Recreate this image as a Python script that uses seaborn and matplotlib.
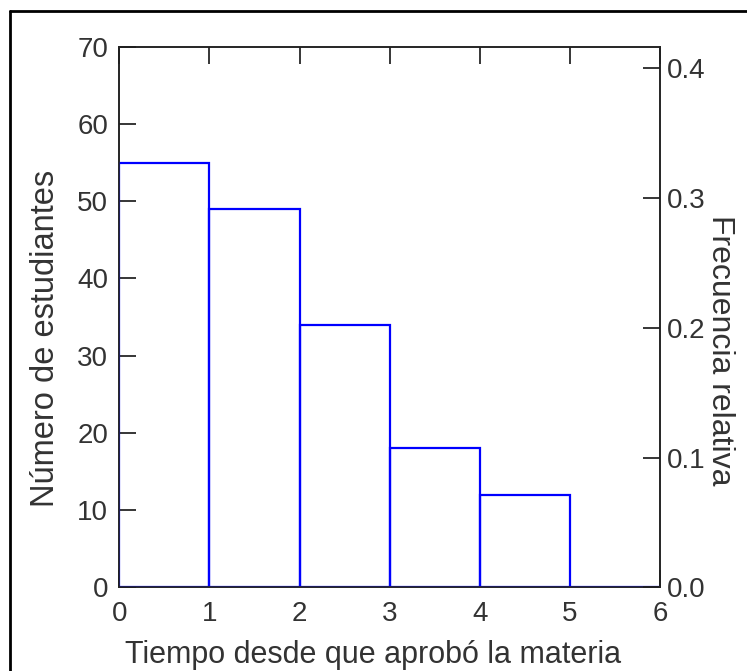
import numpy as np
import pandas as pd
import matplotlib.pyplot as plt
from matplotlib.lines import Line2D
import seaborn as sns

tiempo = [0.5, 1.5, 2.5, 3.5, 4.5, 5.5]
estudiantes = [55, 49, 34, 18, 12, 0]
bordes = [0, 1, 2, 3, 4, 5, 6]
yticks_n = [0, 10, 20, 30, 40, 50, 60, 70]
yticks_f = [0.0, 0.1, 0.2, 0.3, 0.4]

sns.set_style("ticks")
plt.rcParams['font.family'] = ['Liberation Sans', 'DejaVu Sans']

df = pd.DataFrame({"tiempo": tiempo, "n": estudiantes})
total = df["n"].sum()

fs = 20
tc = "#333333"

fig = plt.figure(figsize=(7.47, 6.71), dpi=100)
ax = fig.add_axes([0.1597, 0.1247, 0.8835 - 0.1597, 0.9304 - 0.1247])

sns.histplot(data=df, x="tiempo", weights="n", bins=bordes, element="bars",
             fill=False, color="#0000ff", linewidth=1.6, ax=ax, zorder=3)

ax.set_xlim(0, 6)
ax.set_ylim(0, 70)
ax.set_xticks(range(0, 7))
ax.set_yticks(yticks_n)
ax.tick_params(direction="in", length=12, width=1.1, color="black",
               labelsize=fs, top=True, labelcolor=tc)
ax.tick_params(axis="y", pad=8)
ax.tick_params(axis="x", pad=10)
for s in ax.spines.values():
    s.set_linewidth(1.1)
    s.set_color("black")
ax.set_xlabel("Tiempo desde que aprobó la materia", fontsize=22, color=tc)
ax.set_ylabel("Número de estudiantes", fontsize=23.5, color=tc)
ax.xaxis.set_label_coords(0.47, -0.098)
ax.yaxis.set_label_coords(-0.108, 0.461)

ax2 = ax.twinx()
ax2.set_ylim(0, 70 / total)
ax2.set_yticks(yticks_f)
ax2.set_yticklabels([f"{v:.1f}" for v in yticks_f])
ax2.tick_params(direction="in", length=12, width=1.1, color="black",
                labelsize=fs, pad=5, labelcolor=tc)
for s in ax2.spines.values():
    s.set_linewidth(1.1)
ax2.set_ylabel("Frecuencia relativa", fontsize=23, color=tc, rotation=-90)
ax2.yaxis.set_label_coords(1.139, 0.439)

# marco exterior
fig.add_artist(Line2D([0.0134, 0.0134], [0, 0.9836], color="black", linewidth=2, transform=fig.transFigure))
fig.add_artist(Line2D([0.0134, 1], [0.9836, 0.9836], color="black", linewidth=2, transform=fig.transFigure))

fig.savefig("out.png", dpi=100)
